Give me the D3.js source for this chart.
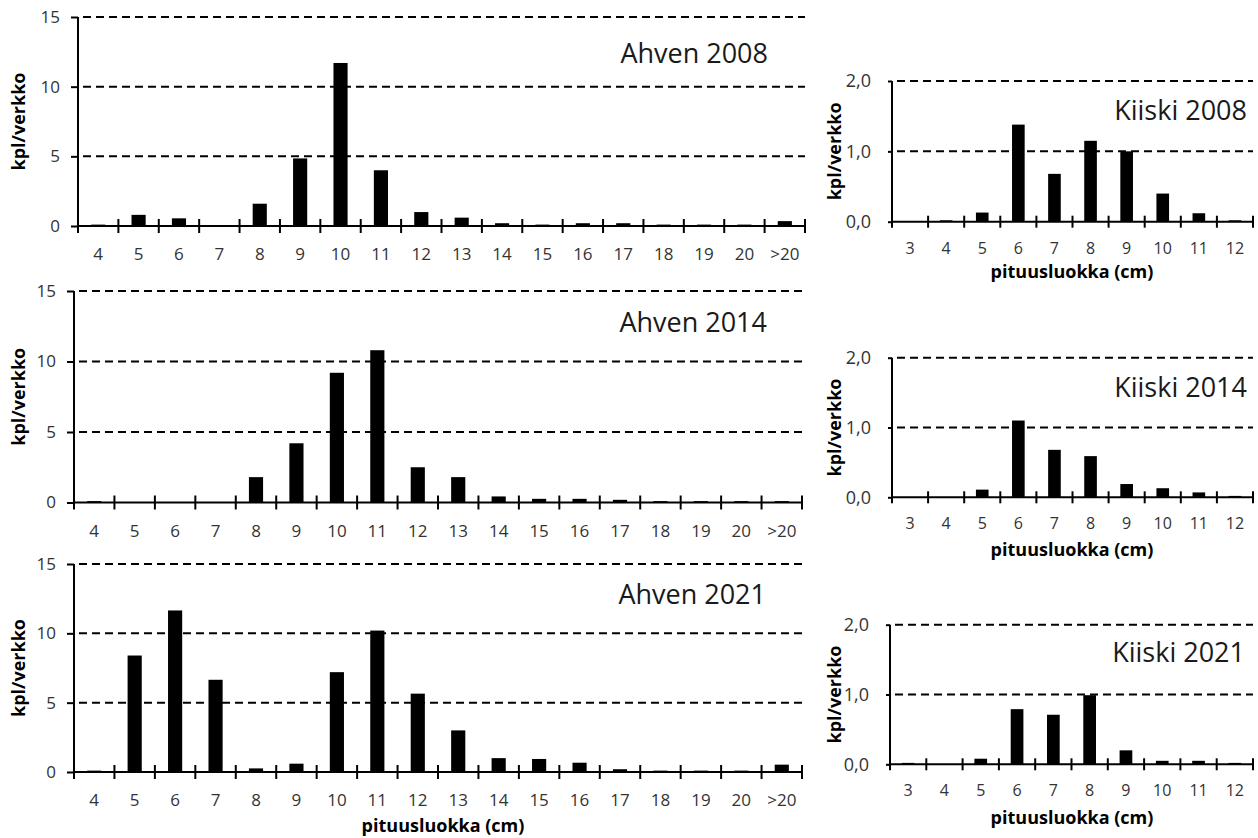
<!DOCTYPE html>
<html><head><meta charset="utf-8">
<script src="https://cdn.jsdelivr.net/npm/d3@7"></script>
<style>
body{margin:0;background:#fff}
svg text{font-family:"Open Sans",sans-serif}
</style>
</head><body>
<svg id="c" width="1258" height="838"></svg>
<script>
// ---- data ----
const ahvenCategories = ["4","5","6","7","8","9","10","11","12","13","14","15","16","17","18","19","20",">20"];
const kiiskiCategories = ["3","4","5","6","7","8","9","10","11","12"];
const ahven2008 = [0.1,0.8,0.55,0.05,1.6,4.85,11.7,4.0,1.0,0.6,0.2,0.1,0.2,0.2,0.1,0.1,0.1,0.35];
const ahven2014 = [0.1,0,0,0,1.8,4.2,9.2,10.8,2.5,1.8,0.43,0.26,0.26,0.19,0.1,0.1,0.1,0.1];
const ahven2021 = [0.1,8.4,11.65,6.65,0.26,0.6,7.2,10.2,5.65,3.0,1.0,0.94,0.67,0.2,0.1,0.1,0.1,0.53];
const kiiski2008 = [0,0.02,0.13,1.38,0.68,1.15,1.0,0.4,0.12,0.02];
const kiiski2014 = [0,0,0.11,1.1,0.68,0.59,0.19,0.13,0.07,0.02];
const kiiski2021 = [0.02,0,0.08,0.79,0.71,0.99,0.2,0.05,0.05,0.02];
const ahvenTicks = [0,5,10,15];
const kiiskiTicks = [0,1,2];
const yLabel = "kpl/verkko";
const xLabel = "pituusluokka (cm)";

const svg = d3.select("#c");
const fmtInt = d3.format("d");
const fmtComma = d => d3.format(".1f")(d).replace(".", ",");

function panel(o){
  const g = svg.append("g");
  const x = d3.scaleBand().domain(o.cats).range([o.left,o.right])
    .paddingInner(0.65).paddingOuter(0.325);
  const y = d3.scaleLinear().domain([0, o.ticks[o.ticks.length-1]]).range([o.bottom,o.top]);

  // dashed gridlines
  g.selectAll("line.grid").data(o.ticks.filter(t=>t>0)).join("line")
    .attr("class","grid")
    .attr("x1",o.left+5).attr("x2",o.right)
    .attr("y1",d=>y(d)).attr("y2",d=>y(d))
    .attr("stroke","#000").attr("stroke-width",2).attr("stroke-dasharray","8,5");

  // bars
  g.selectAll("rect.bar").data(o.values).join("rect")
    .attr("class","bar")
    .attr("x",(d,i)=>x(o.cats[i])).attr("width",x.bandwidth())
    .attr("y",d=>y(d)).attr("height",d=>y(0)-y(d)).attr("fill","#000");

  // y axis
  const yg = g.append("g").attr("transform",`translate(${o.left},0)`)
    .call(d3.axisLeft(y).tickValues(o.ticks).tickSize(o.ytick).tickPadding(o.ypad).tickFormat(o.fmt));
  yg.attr("font-family",null).attr("font-size",null);
  yg.select(".domain").remove();
  yg.selectAll(".tick line").attr("stroke","#000").attr("stroke-width",2);
  yg.selectAll(".tick text").attr("font-size",o.yfs).attr("fill","#333");
  g.append("line").attr("x1",o.left).attr("x2",o.left).attr("y1",o.top).attr("y2",o.bottom+1)
    .attr("stroke","#000").attr("stroke-width",2);

  // x axis labels
  const xg = g.append("g").attr("transform",`translate(0,${o.bottom})`)
    .call(d3.axisBottom(x).tickSize(0));
  xg.attr("font-family",null).attr("font-size",null);
  xg.select(".domain").remove();
  xg.selectAll(".tick text").attr("y",o.xlab).attr("dy",0)
    .attr("font-size",o.xfs).attr("fill","#333");

  // x axis line + boundary ticks crossing it
  g.append("line").attr("x1",o.left-1).attr("x2",o.right+1).attr("y1",o.bottom).attr("y2",o.bottom)
    .attr("stroke","#000").attr("stroke-width",2);
  g.selectAll("line.bt").data(d3.range(o.cats.length+1)).join("line")
    .attr("class","bt")
    .attr("x1",i=>o.left+i*x.step()).attr("x2",i=>o.left+i*x.step())
    .attr("y1",o.bottom-o.xtick).attr("y2",o.bottom+o.xtick)
    .attr("stroke","#000").attr("stroke-width",2);

  // panel title
  g.append("text").attr("x",o.titleX).attr("y",o.titleY).attr("text-anchor","end")
    .attr("font-size",27).attr("fill","#1a1a1a").text(o.title);

  // y label
  const cy = (o.top+o.bottom)/2;
  g.append("text").attr("transform",`translate(${o.ylabX},${cy}) rotate(-90)`)
    .attr("text-anchor","middle").attr("font-size",18).attr("font-weight","bold")
    .attr("fill","#000").text(yLabel);

  if(o.xTitleY){
    g.append("text").attr("x",o.xTitleX).attr("y",o.xTitleY).attr("text-anchor","middle")
      .attr("font-size",18).attr("font-weight","bold").attr("fill","#000").text(xLabel);
  }
}

const ahvenCommon = {cats:ahvenCategories, ticks:ahvenTicks, fmt:fmtInt, ytick:7, ypad:11, yfs:17, xfs:17, xlab:34, xtick:7, ylabX:25};
const kiiskiCommon = {cats:kiiskiCategories, ticks:kiiskiTicks, fmt:fmtComma, ytick:4, ypad:17, yfs:18, xfs:16, xlab:32, xtick:6, ylabX:841};

panel({...ahvenCommon, values:ahven2008, left:78, right:805, top:17, bottom:226, title:"Ahven 2008", titleX:768, titleY:63});
panel({...ahvenCommon, values:ahven2014, left:74, right:802, top:291, bottom:502.5, title:"Ahven 2014", titleX:767, titleY:332});
panel({...ahvenCommon, values:ahven2021, left:74, right:802, top:564, bottom:772, title:"Ahven 2021", titleX:766, titleY:604, xTitleX:443, xTitleY:832});

panel({...kiiskiCommon, values:kiiski2008, left:892, right:1253, top:81, bottom:221.7, title:"Kiiski 2008", titleX:1247, titleY:120, xTitleX:1072, xTitleY:278});
panel({...kiiskiCommon, values:kiiski2014, left:892, right:1253, top:357.7, bottom:497.3, title:"Kiiski 2014", titleX:1247, titleY:397, xTitleX:1072, xTitleY:556});
panel({...kiiskiCommon, values:kiiski2021, left:890, right:1253, top:624.7, bottom:764.3, title:"Kiiski 2021", titleX:1245, titleY:662, xTitleX:1072, xTitleY:824});
</script>
</body></html>
